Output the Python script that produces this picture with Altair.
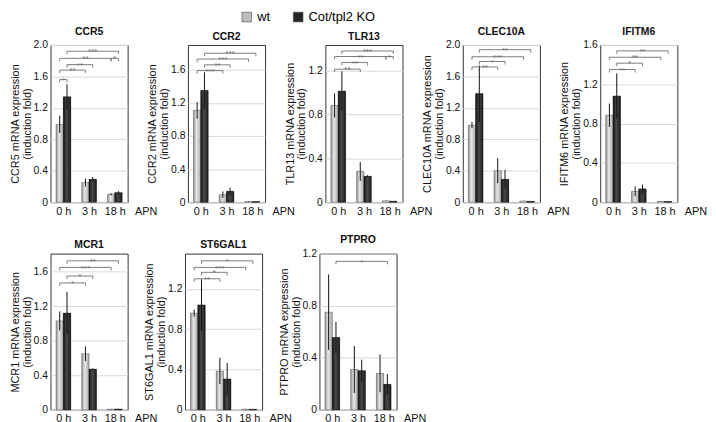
import altair as alt
import pandas as pd

# ---------------- data ----------------
GENES = ["CCR5", "CCR2", "TLR13", "CLEC10A", "IFITM6", "MCR1", "ST6GAL1", "PTPRO"]
TIMES = ["0 h", "3 h", "18 h"]
SERIES = ["wt", "Cot/tpl2 KO"]
Y_MAX = [2.0, 1.9, 1.43, 2.0, 1.6, 1.81, 1.55, 1.2]

WT_MEAN = [
    [0.99, 0.25, 0.10],
    [1.11, 0.09, 0.008],
    [0.88, 0.28, 0.012],
    [0.98, 0.40, 0.015],
    [0.885, 0.11, 0.008],
    [1.03, 0.65, 0.008],
    [0.96, 0.385, 0.006],
    [0.75, 0.31, 0.28],
]
WT_ERR = [
    [0.11, 0.05, 0.015],
    [0.10, 0.04, 0.003],
    [0.11, 0.085, 0.003],
    [0.04, 0.16, 0.003],
    [0.12, 0.05, 0.002],
    [0.11, 0.085, 0.002],
    [0.035, 0.13, 0.002],
    [0.29, 0.18, 0.145],
]
KO_MEAN = [
    [1.34, 0.29, 0.12],
    [1.35, 0.13, 0.006],
    [1.01, 0.235, 0.008],
    [1.38, 0.29, 0.01],
    [1.08, 0.135, 0.006],
    [1.12, 0.47, 0.008],
    [1.04, 0.305, 0.005],
    [0.555, 0.30, 0.195],
]
KO_ERR = [
    [0.16, 0.03, 0.02],
    [0.22, 0.045, 0.003],
    [0.18, 0.01, 0.002],
    [0.36, 0.12, 0.003],
    [0.23, 0.045, 0.002],
    [0.245, 0.01, 0.002],
    [0.255, 0.16, 0.002],
    [0.12, 0.085, 0.08],
]

# significance brackets: (time_a, series_a, time_b, series_b, level, label); series 0 = wt, 1 = KO
SIG_CCR5 = [(0, 0, 0, 1, 1.56, "*"), (0, 0, 1, 0, 1.68, "**"), (0, 1, 1, 1, 1.75, "**"),
            (0, 0, 2, 0, 1.83, "**"), (2, 0, 2, 1, 1.83, "*"), (0, 1, 2, 1, 1.92, "***")]
SIG_CCR2 = [(0, 0, 1, 0, 1.59, "***"), (0, 1, 1, 1, 1.66, "**"), (0, 0, 2, 0, 1.73, "***"),
            (0, 1, 2, 1, 1.80, "***")]
SIG_TLR13 = [(0, 0, 1, 0, 1.21, "**"), (0, 1, 1, 1, 1.27, "**"), (0, 0, 2, 0, 1.325, "**"),
             (2, 0, 2, 1, 1.325, "*"), (0, 1, 2, 1, 1.375, "***")]
SIG_CLEC10A = [(0, 0, 1, 0, 1.72, "**"), (0, 1, 1, 1, 1.79, "*"), (0, 0, 2, 0, 1.85, "***"),
               (0, 1, 2, 1, 1.94, "**")]
SIG_IFITM6 = [(0, 0, 1, 0, 1.35, "**"), (0, 1, 1, 1, 1.415, "*"), (0, 0, 2, 0, 1.475, "**"),
              (0, 1, 2, 1, 1.54, "**")]
SIG_MCR1 = [(0, 0, 1, 0, 1.47, "*"), (0, 1, 1, 1, 1.55, "*"), (0, 0, 2, 0, 1.65, "***"),
            (0, 1, 2, 1, 1.726, "**")]
SIG_ST6GAL1 = [(0, 0, 1, 0, 1.30, "**"), (0, 1, 1, 1, 1.364, "*"), (0, 0, 2, 0, 1.413, "***"),
               (0, 1, 2, 1, 1.478, "*")]
SIG_PTPRO = [(0, 1, 2, 1, 1.14, "*")]
SIGS = [SIG_CCR5, SIG_CCR2, SIG_TLR13, SIG_CLEC10A, SIG_IFITM6, SIG_MCR1, SIG_ST6GAL1, SIG_PTPRO]

# ---------------- style ----------------
FONT = "Liberation Sans"
BW = 0.285          # bar width in x-units
PW = 78             # panel plot width
WT_FILL = "#bdbdbd"
KO_FILL = "#262626"
BR_COLOR = "#6e6e6e"

WT_GRAD = alt.LinearGradient(
    gradient="linear", x1=0, x2=1, y1=0, y2=0,
    stops=[alt.GradientStop(color="#8f8f8f", offset=0),
           alt.GradientStop(color="#e8e8e8", offset=0.42),
           alt.GradientStop(color="#a6a6a6", offset=1)])
KO_GRAD = alt.LinearGradient(
    gradient="linear", x1=0, x2=1, y1=0, y2=0,
    stops=[alt.GradientStop(color="#151515", offset=0),
           alt.GradientStop(color="#4a4a4a", offset=0.45),
           alt.GradientStop(color="#1c1c1c", offset=1)])


def bar_center(t, s):
    return t - BW / 2 if s == 0 else t + BW / 2


def panel(i, height):
    gene = GENES[i]
    ymax = Y_MAX[i]
    rows = []
    for t in range(3):
        for s, (m, e) in enumerate([(WT_MEAN[i][t], WT_ERR[i][t]), (KO_MEAN[i][t], KO_ERR[i][t])]):
            rows.append(dict(series=SERIES[s], mean=m, base=0.0,
                             lo=max(m - e, 0.0), hi=m + e,
                             x0=t - BW if s == 0 else t, x1=t if s == 0 else t + BW,
                             xc=bar_center(t, s)))
    bars = pd.DataFrame(rows)

    brs, ends = [], []
    for (ta, sa, tb, sb, lvl, lab) in SIGS[i]:
        xa, xb = bar_center(ta, sa), bar_center(tb, sb)
        brs.append(dict(xa=xa, xb=xb, xm=(xa + xb) / 2, y=lvl, label=lab))
        ends.append(dict(x=xa, y=lvl))
        ends.append(dict(x=xb, y=lvl))
    brs = pd.DataFrame(brs)
    ends = pd.DataFrame(ends)

    ticks = [round(k * 0.4, 1) for k in range(int(ymax / 0.4 + 1e-9) + 1)]
    xscale = alt.Scale(domain=[-0.5, 2.5], nice=False, zero=False)
    yscale = alt.Scale(domain=[0, ymax], nice=False, zero=True)
    xaxis = alt.Axis(values=[0, 1, 2], labelExpr=f"{TIMES!r}[datum.value]",
                     title="APN", titleX=PW + 7, titleY=3, titleAlign="left",
                     titleBaseline="top", titleAngle=0, titleFontWeight="normal",
                     titleFontSize=11, grid=False, ticks=False, domain=False,
                     labelPadding=3, labelFontSize=11, labelFlush=False)
    yaxis = alt.Axis(values=ticks,
                     labelExpr="datum.value == 0 ? '0' : format(datum.value, '.1f')",
                     title=[f"{gene} mRNA expression", "(induction fold)"],
                     titleFontSize=11, titleFontWeight="normal", titlePadding=1,
                     titleLineHeight=12, grid=True, gridColor="#d9d9d9",
                     ticks=False, domain=False, labelPadding=3, labelFontSize=10.5)

    def X(f):
        return alt.X(f"{f}:Q", scale=xscale, axis=xaxis, title="APN")

    def Y(f):
        return alt.Y(f"{f}:Q", scale=yscale, axis=yaxis,
                     title=[f"{gene} mRNA expression", "(induction fold)"])

    base = alt.Chart(bars).mark_rect().encode(
        x=X("x0"), x2="x1", y=Y("mean"), y2="base",
        color=alt.Color("series:N",
                        scale=alt.Scale(domain=SERIES, range=[WT_FILL, KO_FILL]),
                        legend=alt.Legend(orient="none", legendX=192, legendY=-35,
                                          direction="horizontal", title=None,
                                          symbolType="square", symbolSize=95,
                                          symbolStrokeColor="#444", symbolStrokeWidth=0.6,
                                          labelFontSize=13, labelFont=FONT,
                                          labelOffset=4, columnPadding=22)))
    wt_layer = alt.Chart(bars).transform_filter(alt.datum.series == SERIES[0]).mark_rect(
        fill=WT_GRAD, stroke="#666", strokeWidth=0.5).encode(
        x=X("x0"), x2="x1", y=Y("mean"), y2="base")
    ko_layer = alt.Chart(bars).transform_filter(alt.datum.series == SERIES[1]).mark_rect(
        fill=KO_GRAD, stroke="#111", strokeWidth=0.5).encode(
        x=X("x0"), x2="x1", y=Y("mean"), y2="base")
    err = alt.Chart(bars).mark_rule(color="#111", strokeWidth=1).encode(
        x=X("xc"), y=Y("lo"), y2="hi")
    br_line = alt.Chart(brs).mark_rule(color=BR_COLOR, strokeWidth=0.9).encode(
        x=X("xa"), x2="xb", y=Y("y"))
    br_end = alt.Chart(ends).mark_rule(color=BR_COLOR, strokeWidth=0.9, y2Offset=3).encode(
        x=X("x"), y=Y("y"), y2="y")
    br_txt = alt.Chart(brs).mark_text(color=BR_COLOR, fontSize=8, baseline="alphabetic",
                                      dy=3.2, font=FONT).encode(
        x=X("xm"), y=Y("y"), text="label:N")

    return alt.layer(base, wt_layer, ko_layer, err, br_line, br_end, br_txt).properties(
        width=PW, height=height,
        title=alt.TitleParams(gene, fontSize=10.5, fontWeight="bold", offset=3, font=FONT))


row1 = alt.hconcat(*[panel(i, 159) for i in range(5)], spacing=61, bounds="flush")
row2 = alt.hconcat(*[panel(i, 158) for i in range(5, 8)], spacing=58, bounds="flush")
row1 = row1.resolve_scale(x="independent", y="independent", color="shared")
row2 = row2.resolve_scale(x="independent", y="independent", color="shared")

chart = alt.vconcat(row1, row2, spacing=18).resolve_scale(
    x="independent", y="independent", color="shared"
).resolve_legend(color="shared").properties(padding=0).configure_view(
    stroke="#333", strokeWidth=1
).configure_axis(
    labelFont=FONT, titleFont=FONT, labelColor="#111", titleColor="#111"
).configure_title(font=FONT, color="#111")

chart.save("out.html", embed_options={"renderer": "svg", "actions": False})
